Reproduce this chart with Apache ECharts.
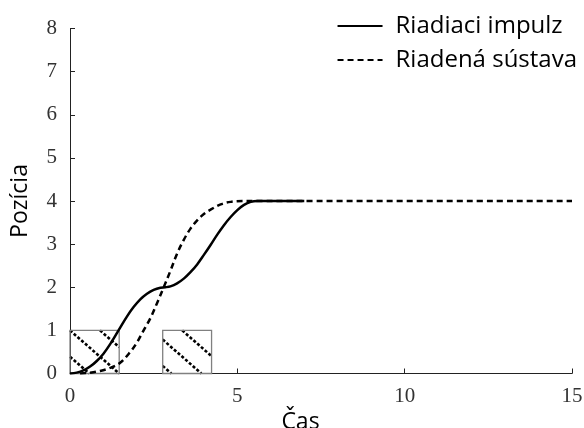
<!DOCTYPE html>
<html>
<head>
<meta charset="utf-8">
<script src="https://cdn.jsdelivr.net/npm/echarts@6/dist/echarts.min.js"></script>
<style>html,body{margin:0;padding:0;background:#fff}#c{width:584px;height:428px}</style>
</head>
<body>
<div id="c"></div>
<script>
// ---- data ----
var seriesNames = ['Riadiaci impulz', 'Riadená sústava'];
var xTicks = [0, 5, 10, 15];
var yTicks = [0, 1, 2, 3, 4, 5, 6, 7, 8];

var impulseX = [0, 0.2, 0.4, 0.6, 0.8, 1.0, 1.2, 1.45, 1.7, 1.9, 2.1, 2.3, 2.5, 2.7, 2.85, 3.0, 3.2, 3.4, 3.6, 3.8, 4.0, 4.2, 4.4, 4.6, 4.8, 5.0, 5.2, 5.4, 5.6, 7];
var impulseY = [0, 0.02, 0.07, 0.16, 0.29, 0.46, 0.68, 1.0, 1.32, 1.54, 1.72, 1.85, 1.94, 1.99, 2.0, 2.02, 2.09, 2.2, 2.35, 2.53, 2.75, 2.98, 3.22, 3.44, 3.63, 3.79, 3.91, 3.98, 4.0, 4.0];

var systemX = [0.3, 0.6, 0.9, 1.2, 1.5, 1.8, 2.0, 2.2, 2.4, 2.6, 2.8, 3.0, 3.2, 3.4, 3.6, 3.8, 4.0, 4.2, 4.5, 4.8, 5.2, 15];
var systemY = [0, 0.02, 0.06, 0.13, 0.25, 0.5, 0.72, 1.0, 1.28, 1.63, 2.0, 2.38, 2.78, 3.1, 3.36, 3.55, 3.7, 3.8, 3.92, 3.98, 4.0, 4.0];

var boxStart = [0, 2.77];
var boxEnd = [1.47, 4.23];
var boxHeight = [1, 1];

// ---- build ----
function pairs(xs, ys) { return xs.map(function (x, i) { return [x, ys[i]]; }); }
var boxData = boxStart.map(function (s, i) { return [s, boxEnd[i], boxHeight[i]]; });

var serif = 'Liberation Serif';
var sans = 'Open Sans';

function renderBox(params, api) {
  var p0 = api.coord([api.value(0), api.value(2)]);
  var p1 = api.coord([api.value(1), 0]);
  var left = p0[0], top = p0[1], right = p1[0], bottom = p1[1];
  var h = bottom - top;
  var slope = 0.877, spacing = 30;
  var phase = params.dataIndex === 0 ? 0 : -10.5;
  var children = [];
  var start = left + phase;
  while (start - spacing > left - h / slope) start -= spacing;
  for (var xs = start; xs < right; xs += spacing) {
    var ex, ey, fx, fy;
    if (xs >= left) { ex = xs; ey = top; } else { ex = left; ey = top + slope * (left - xs); }
    if (ey >= bottom) continue;
    var bx = xs + h / slope;
    if (bx <= right) { fx = bx; fy = bottom; } else { fx = right; fy = top + slope * (right - xs); }
    if (fx <= ex) continue;
    children.push({
      type: 'line',
      shape: { x1: ex, y1: ey, x2: fx, y2: fy },
      style: { stroke: '#000', lineWidth: 2.6, lineDash: [3, 2] }
    });
  }
  children.push({
    type: 'rect',
    shape: { x: left, y: top, width: right - left, height: h },
    style: { fill: 'none', stroke: '#808080', lineWidth: 1.3 }
  });
  return { type: 'group', children: children };
}

var chart = echarts.init(document.getElementById('c'), null, { renderer: 'canvas' });
chart.setOption({
  backgroundColor: '#fff',
  animation: false,
  grid: { left: 70, right: 12, top: 28.5, bottom: 54.5, containLabel: false, outerBoundsMode: 'none' },
  legend: {
    orient: 'vertical',
    right: 2,
    top: 9,
    itemWidth: 45,
    itemHeight: 14,
    itemGap: 10,
    align: 'left',
    data: seriesNames,
    itemStyle: { opacity: 0 },
    textStyle: { fontFamily: sans, fontSize: 24, color: '#000', padding: [0, 0, 0, 8] }
  },
  xAxis: {
    type: 'value', min: 0, max: 15, interval: 5,
    name: 'Čas', nameLocation: 'middle', nameGap: 20,
    nameTextStyle: { fontFamily: sans, fontSize: 23, color: '#000', padding: [0, 41, 0, 0] },
    axisLine: { lineStyle: { color: '#222', width: 1 } },
    axisTick: { inside: true, length: 5, lineStyle: { color: '#222' } },
    axisLabel: { margin: 12, fontFamily: serif, fontSize: 21, color: '#333',
      formatter: function (v) { return xTicks.indexOf(v) >= 0 ? String(v) : ''; } },
    splitLine: { show: false }
  },
  yAxis: {
    type: 'value', min: 0, max: 8, interval: 1,
    name: 'Pozícia', nameLocation: 'middle', nameGap: 38, nameRotate: 90,
    nameTextStyle: { fontFamily: sans, fontSize: 23, color: '#000' },
    axisLine: { show: true, lineStyle: { color: '#222', width: 1 } },
    axisTick: { show: true, inside: true, length: 5, lineStyle: { color: '#222' } },
    axisLabel: { margin: 13, fontFamily: serif, fontSize: 21, color: '#333',
      formatter: function (v) { return yTicks.indexOf(v) >= 0 ? String(v) : ''; } },
    splitLine: { show: false }
  },
  series: [
    {
      type: 'custom', name: 'boxes', renderItem: renderBox, data: boxData, z: 1,
      encode: { x: [0, 1], y: 2 }, silent: true
    },
    {
      name: seriesNames[0], type: 'line', data: pairs(impulseX, impulseY),
      showSymbol: false, symbol: 'none', smooth: 0.35, z: 3,
      lineStyle: { color: '#000', width: 2.5, type: 'solid' }, itemStyle: { color: '#000' }
    },
    {
      name: seriesNames[1], type: 'line', data: pairs(systemX, systemY),
      showSymbol: false, symbol: 'none', smooth: 0.35, z: 2,
      lineStyle: { color: '#000', width: 2.5, type: [6, 4] }, itemStyle: { color: '#000' }
    }
  ]
});
</script>
</body>
</html>
